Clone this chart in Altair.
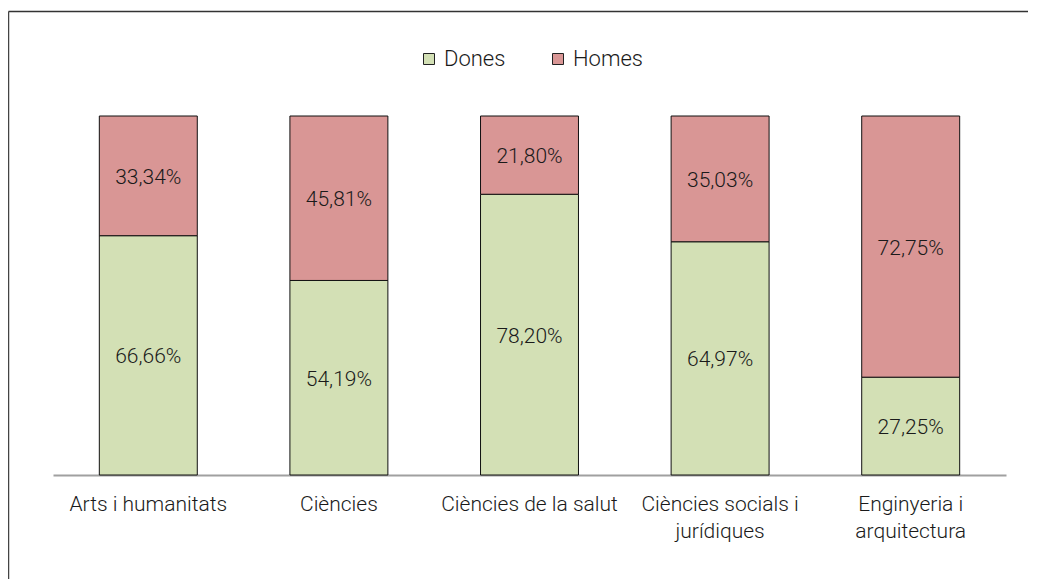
import altair as alt
import pandas as pd

categories = ["Arts i humanitats", "Ciències", "Ciències de la salut",
              "Ciències socials i jurídiques", "Enginyeria i arquitectura"]
axis_labels = ["Arts i humanitats", "Ciències", "Ciències de la salut",
               "Ciències socials i|jurídiques", "Enginyeria i|arquitectura"]
dones = [66.66, 54.19, 78.20, 64.97, 27.25]
homes = [33.34, 45.81, 21.80, 35.03, 72.75]
series = ["Dones", "Homes"]
colors = ["#D3E0B5", "#D99695"]

rows = []
for lab, d, h in zip(axis_labels, dones, homes):
    rows.append({"cat": lab, "sex": "Dones", "ord": 0, "value": d,
                 "label": f"{d:.2f}".replace(".", ",") + "%"})
    rows.append({"cat": lab, "sex": "Homes", "ord": 1, "value": h,
                 "label": f"{h:.2f}".replace(".", ",") + "%"})
df = pd.DataFrame(rows)

FONT = "Roboto"
FW = 300
W, H = 953, 359

xenc = alt.X("cat:N", sort=axis_labels, title=None,
             scale=alt.Scale(paddingInner=0.486, paddingOuter=0.243),
             axis=alt.Axis(labelAngle=0, ticks=False, domainColor="#a0a0a0", domainWidth=2,
                           labelFont=FONT, labelFontSize=21, labelFontWeight=FW,
                           labelColor="#1a1a1a",
                           labelPadding=18, labelLineHeight=27, labelLimit=300,
                           labelExpr="split(datum.label, '|')", grid=False))

base = alt.Chart(df)

bars = base.mark_bar(stroke="#111", strokeWidth=1).encode(
    x=xenc,
    y=alt.Y("value:Q", stack="zero", scale=alt.Scale(domain=[0, 100]), axis=None),
    color=alt.Color("sex:N", scale=alt.Scale(domain=series, range=colors), title=None,
                    legend=alt.Legend(orient="none", direction="horizontal",
                                      legendX=365, legendY=-68,
                                      symbolType="square", symbolSize=121,
                                      symbolStrokeColor="#222", symbolStrokeWidth=1,
                                      symbolOpacity=1,
                                      labelFont=FONT, labelFontSize=22, labelFontWeight=FW,
                                      labelColor="#1a1a1a",
                                      labelOffset=4, columnPadding=41, padding=0)),
    order=alt.Order("ord:Q"),
)

text = base.transform_stack(
    stack="value", groupby=["cat"], as_=["y0", "y1"], sort=[alt.SortField("ord")]
).transform_calculate(mid="(datum.y0 + datum.y1) / 2").mark_text(
    font=FONT, fontSize=21, fontWeight=FW, color="#1a1a1a", baseline="middle", dy=2
).encode(
    x=alt.X("cat:N", sort=axis_labels),
    y=alt.Y("mid:Q"),
    text="label:N",
)

frame_top = alt.Chart(pd.DataFrame({"a": [0]})).mark_rule(color="#333", strokeWidth=1.5).encode(
    x=alt.value(-44.5), x2=alt.value(W + 30), y=alt.value(-104.5))
frame_left = alt.Chart(pd.DataFrame({"a": [0]})).mark_rule(color="#444", strokeWidth=1.5).encode(
    x=alt.value(-44.5), y=alt.value(-104.5), y2=alt.value(H + 110))

chart = alt.layer(bars, text, frame_top, frame_left).properties(
    width=W, height=H,
    background="white",
    autosize=alt.AutoSizeParams(type="none"),
    padding={"left": 45, "top": 108, "right": 22, "bottom": 104},
).configure_view(stroke=None, strokeWidth=0)

chart.save("out.html", embed_options={"renderer": "svg", "actions": False})
